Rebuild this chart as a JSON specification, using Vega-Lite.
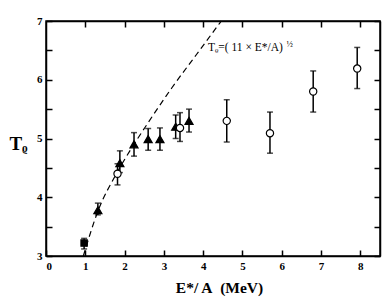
{
  "$schema": "https://vega.github.io/schema/vega-lite/v6.json",
  "autosize": "none",
  "width": 334,
  "height": 235,
  "padding": {"left": 46, "top": 21, "right": 7, "bottom": 47},
  "background": "white",
  "config": {
    "view": {"stroke": "black", "strokeWidth": 1.5},
    "font": "Liberation Serif",
    "axis": {
      "domainColor": "black", "domainWidth": 1.5, "tickColor": "black", "tickWidth": 1.5,
      "tickSize": -6, "grid": false, "labelFont": "Liberation Serif", "labelFontWeight": "bold",
      "labelFontSize": 11, "labelColor": "black", "titleFont": "Liberation Serif", "titleColor": "black"
    }
  },
  "datasets": {
    "pts": [
      {"x": 0.97, "y": 3.22, "lo": 3.12, "hi": 3.3, "type": "sq"},
      {"x": 1.32, "y": 3.78, "lo": 3.7, "hi": 3.9, "type": "tri"},
      {"x": 1.82, "y": 4.4, "lo": 4.21, "hi": 4.57, "type": "circ"},
      {"x": 1.88, "y": 4.58, "lo": 4.42, "hi": 4.79, "type": "tri"},
      {"x": 2.24, "y": 4.9, "lo": 4.7, "hi": 5.1, "type": "tri"},
      {"x": 2.6, "y": 4.99, "lo": 4.8, "hi": 5.17, "type": "tri"},
      {"x": 2.9, "y": 4.99, "lo": 4.8, "hi": 5.18, "type": "tri"},
      {"x": 3.3, "y": 5.2, "lo": 5.0, "hi": 5.4, "type": "tri"},
      {"x": 3.41, "y": 5.18, "lo": 4.95, "hi": 5.44, "type": "circ"},
      {"x": 3.64, "y": 5.3, "lo": 5.11, "hi": 5.5, "type": "tri"},
      {"x": 4.6, "y": 5.3, "lo": 4.94, "hi": 5.66, "type": "circ"},
      {"x": 5.7, "y": 5.09, "lo": 4.75, "hi": 5.45, "type": "circ"},
      {"x": 6.8, "y": 5.8, "lo": 5.45, "hi": 6.15, "type": "circ"},
      {"x": 7.92, "y": 6.19, "lo": 5.85, "hi": 6.55, "type": "circ"}
    ],
    "curve": [
      {"x": 0.95, "y": 3.0},
      {"x": 1.32, "y": 3.76},
      {"x": 1.8, "y": 4.41},
      {"x": 2.2, "y": 4.86},
      {"x": 2.58, "y": 5.25},
      {"x": 3.2, "y": 5.86},
      {"x": 3.83, "y": 6.43},
      {"x": 4.46, "y": 7.0}
    ],
    "one": [{}]
  },
  "resolve": {"axis": {"x": "independent", "y": "independent"}},
  "layer": [
    {
      "data": {"name": "curve"},
      "mark": {"type": "line", "color": "black", "strokeWidth": 1.2, "strokeDash": [6, 4], "interpolate": "monotone"},
      "encoding": {
        "x": {"field": "x", "type": "quantitative", "scale": {"domain": [0, 8.5], "nice": false},
          "axis": {"orient": "bottom", "values": [0,1,2,3,4,5,6,7,8], "labelPadding": 10, "title": "E*/ A\u00a0\u00a0(MeV)",
            "titleFontSize": 15.5, "titleFontWeight": "bold", "titleX": 173, "titleY": 36, "titleBaseline": "alphabetic", "titleAnchor": null, "titleAlign": "center"}},
        "y": {"field": "y", "type": "quantitative", "scale": {"domain": [3, 7], "nice": false},
          "axis": {"orient": "left", "values": [3,3.5,4,4.5,5,5.5,6,6.5,7], "labelExpr": "datum.value % 1 === 0 ? format(datum.value, 'd') : ''",
            "labelPadding": 10, "title": "Tᵨ", "titleAngle": 0, "titleFontSize": 19, "titleFontWeight": "bold",
            "titleX": -28, "titleY": 122, "titleAlign": "center", "titleBaseline": "middle", "titleAnchor": null}}
      }
    },
    {
      "data": {"name": "pts"},
      "mark": {"type": "errorbar", "ticks": {"size": 6, "thickness": 1.5}, "thickness": 1.5, "color": "black"},
      "encoding": {
        "x": {"field": "x", "type": "quantitative", "axis": null},
        "y": {"field": "lo", "type": "quantitative", "axis": null},
        "y2": {"field": "hi"}
      }
    },
    {
      "data": {"name": "pts"},
      "mark": {"type": "point", "filled": true, "opacity": 1, "strokeWidth": 1.2},
      "encoding": {
        "x": {"field": "x", "type": "quantitative",
          "axis": {"orient": "top", "values": [1,2,3,4,5,6,7,8], "labels": false, "title": null}},
        "y": {"field": "y", "type": "quantitative",
          "axis": {"orient": "right", "values": [3,3.5,4,4.5,5,5.5,6,6.5,7], "labels": false, "title": null}},
        "shape": {"field": "type", "type": "nominal", "legend": null,
          "scale": {"domain": ["tri", "circ", "sq"], "range": ["triangle-up", "circle", "square"]}},
        "size": {"field": "type", "type": "nominal", "legend": null,
          "scale": {"domain": ["tri", "circ", "sq"], "range": [65, 40, 45]}},
        "fill": {"field": "type", "type": "nominal", "legend": null,
          "scale": {"domain": ["tri", "circ", "sq"], "range": ["black", "white", "black"]}},
        "stroke": {"value": "black"}
      }
    },
    {
      "data": {"name": "one"},
      "mark": {"type": "text", "text": "Tᵨ=( 11 × E*/A)", "fontSize": 11.5, "align": "left", "baseline": "alphabetic", "color": "black", "font": "Liberation Serif"},
      "encoding": {
        "x": {"datum": 4.12, "type": "quantitative", "axis": null},
        "y": {"datum": 6.49, "type": "quantitative", "axis": null}
      }
    },
    {
      "data": {"name": "one"},
      "mark": {"type": "text", "text": "½", "fontSize": 8.5, "align": "left", "baseline": "alphabetic", "color": "black", "font": "Liberation Serif"},
      "encoding": {
        "x": {"datum": 6.12, "type": "quantitative", "axis": null},
        "y": {"datum": 6.56, "type": "quantitative", "axis": null}
      }
    }
  ]
}
